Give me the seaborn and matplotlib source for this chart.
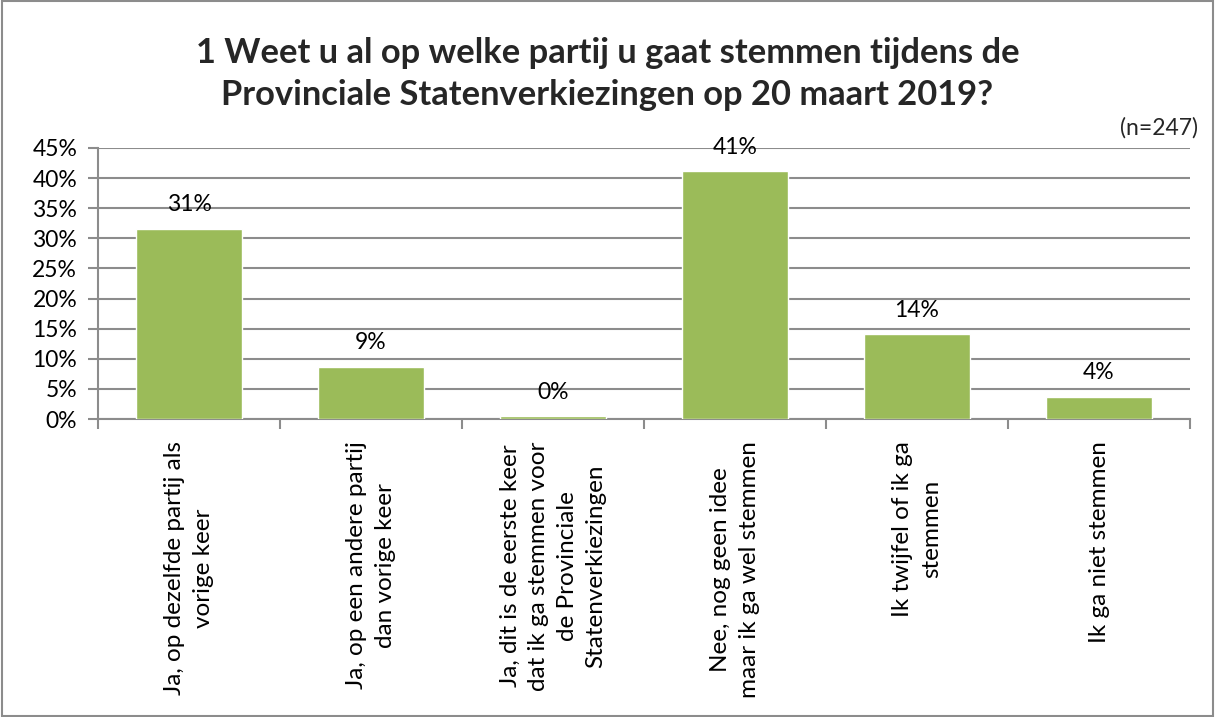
import matplotlib
matplotlib.use("Agg")
import matplotlib.pyplot as plt
import seaborn as sns
import pandas as pd
import numpy as np
from matplotlib.ticker import PercentFormatter, FixedLocator
from matplotlib.transforms import blended_transform_factory, offset_copy

categories = [
    "Ja, op dezelfde partij als\nvorige keer",
    "Ja, op een andere partij\ndan vorige keer",
    "Ja, dit is de eerste keer\ndat ik ga stemmen voor\nde Provinciale\nStatenverkiezingen",
    "Nee, nog geen idee\nmaar ik ga wel stemmen",
    "Ik twijfel of ik ga\nstemmen",
    "Ik ga niet stemmen",
]
values = [31.6, 8.7, 0.5, 41.2, 14.1, 3.7]
labels = ["31%", "9%", "0%", "41%", "14%", "4%"]
title = "1 Weet u al op welke partij u gaat stemmen tijdens de\nProvinciale Statenverkiezingen op 20 maart 2019?"
note = "(n=247)"

sns.set_theme(style="white")
plt.rcParams['font.family'] = ['Lato', 'DejaVu Sans']

df = pd.DataFrame({"cat": categories, "val": values})

fig = plt.figure(figsize=(12.15, 7.17), dpi=100)
ax = fig.add_axes([98/1215, 1-419/717, (1190-98)/1215, (419-148)/717])

sns.barplot(data=df, x="cat", y="val", color="#9BBB59", saturation=1,
            width=0.58, ax=ax, zorder=3)

ax.set_ylim(0, 45)
ax.set_xlim(-0.5, len(categories) - 0.5)
ax.yaxis.set_major_locator(FixedLocator(np.arange(0, 46, 5)))
ax.yaxis.set_major_formatter(PercentFormatter(decimals=0))
ax.grid(axis="y", color="#8c8c8c", linewidth=1.5, zorder=0)
ax.set_axisbelow(True)
for s in ["top", "right"]:
    ax.spines[s].set_visible(False)
for s in ["left", "bottom"]:
    ax.spines[s].set_color("#8c8c8c")
    ax.spines[s].set_linewidth(1.5)

ax.set_xlabel("")
ax.set_ylabel("")
ax.tick_params(axis="y", which="major", left=True, length=7, width=1.5,
               color="#8c8c8c", labelsize=16.5, pad=8, labelcolor="black")
ax.set_xticks(np.arange(len(categories)))
ax.tick_params(axis="x", which="major", bottom=False, length=0, labelbottom=False)
ax.set_xticks(np.arange(-0.5, len(categories), 1), minor=True)
ax.tick_params(axis="x", which="minor", bottom=True, length=7, width=1.5,
               color="#8c8c8c")

# category labels, rotated, hanging below the axis
trans = offset_copy(blended_transform_factory(ax.transData, ax.transAxes),
                    fig=fig, x=0, y=-16, units="points")
for i, cat in enumerate(categories):
    ax.text(i, 0, cat, transform=trans, rotation=90, ha="center", va="top",
            multialignment="center", fontsize=17.5, linespacing=1.45,
            color="black", clip_on=False)

for i, (v, lab) in enumerate(zip(values, labels)):
    ax.text(i, v + 2.2, lab, ha="center", va="bottom", fontsize=16.5, color="black")

fig.text(0.5, 1 - 74/717, title, ha="center", va="center", fontsize=24.8,
         fontweight="bold", linespacing=1.4)
fig.text(1198/1215, 1 - 128/717, note, ha="right", va="center", fontsize=16.5)

border = plt.Rectangle((0.002, 0.002), 0.996, 0.996, transform=fig.transFigure,
                       fill=False, edgecolor="#8c8c8c", linewidth=1.5)
fig.patches.append(border)

fig.savefig("out.png", dpi=100, facecolor="white")
